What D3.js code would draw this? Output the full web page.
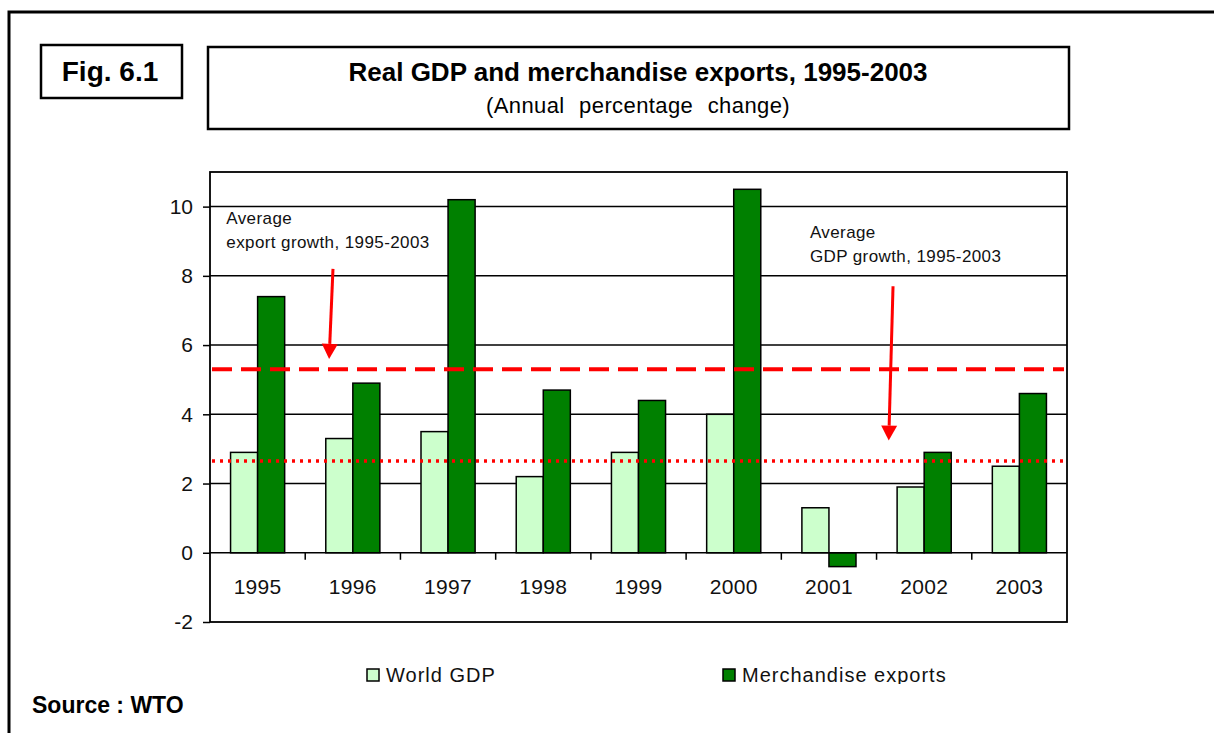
<!DOCTYPE html>
<html>
<head>
<meta charset="utf-8">
<script src="https://cdn.jsdelivr.net/npm/d3@7"></script>
<style>
  body { margin: 0; background: #fff; }
  svg { display: block; font-family: "Liberation Sans", Arial, sans-serif; }
</style>
</head>
<body>
<div id="chart"></div>
<script>
// data
const years = ["1995", "1996", "1997", "1998", "1999", "2000", "2001", "2002", "2003"];
const worldGdp = [2.9, 3.3, 3.5, 2.2, 2.9, 4.0, 1.3, 1.9, 2.5];
const merchExports = [7.4, 4.9, 10.2, 4.7, 4.4, 10.5, -0.4, 2.9, 4.6];
const seriesNames = ["World GDP", "Merchandise exports"];
const seriesColors = ["#ccffcc", "#008000"];
const yTicks = [-2, 0, 2, 4, 6, 8, 10];
const avgExport = 5.3;
const avgGdp = 2.65;

const width = 1214, height = 733;

const svg = d3.select("#chart").append("svg")
    .attr("width", width)
    .attr("height", height);

// page frame (only top + left edges are visible)
svg.append("path")
    .attr("d", "M9,733 V12 H1214")
    .attr("fill", "none")
    .attr("stroke", "#000")
    .attr("stroke-width", 3);

// fig label box
svg.append("rect")
    .attr("x", 41).attr("y", 45).attr("width", 141).attr("height", 53)
    .attr("fill", "none").attr("stroke", "#000").attr("stroke-width", 2.5);
svg.append("text")
    .attr("x", 110).attr("y", 81)
    .attr("text-anchor", "middle")
    .attr("font-weight", "bold")
    .attr("font-size", 28)
    .text("Fig. 6.1");

// title box
svg.append("rect")
    .attr("x", 208).attr("y", 47).attr("width", 861).attr("height", 82)
    .attr("fill", "none").attr("stroke", "#000").attr("stroke-width", 2.5);
svg.append("text")
    .attr("x", 638).attr("y", 81)
    .attr("text-anchor", "middle")
    .attr("font-weight", "bold")
    .attr("font-size", 26)
    .text("Real GDP and merchandise exports, 1995-2003");
svg.append("text")
    .attr("x", 638).attr("y", 113)
    .attr("text-anchor", "middle")
    .attr("font-size", 22)
    .attr("letter-spacing", 0.4)
    .attr("word-spacing", 8)
    .text("(Annual percentage change)");

// plot area
const margin = {left: 210, right: 1067, top: 172, bottom: 622};

const x0 = d3.scaleBand()
    .domain(years)
    .range([margin.left, margin.right]);

const x1 = d3.scaleBand()
    .domain(seriesNames)
    .range([0, x0.bandwidth()])
    .paddingOuter(0.76);

const y = d3.scaleLinear()
    .domain([-2, 11])
    .range([margin.bottom, margin.top]);

const plot = svg.append("g");

// gridlines
plot.append("g")
    .selectAll("line")
    .data(yTicks.filter(d => d > 0))
    .enter().append("line")
    .attr("x1", margin.left).attr("x2", margin.right)
    .attr("y1", d => y(d)).attr("y2", d => y(d))
    .attr("stroke", "#000").attr("stroke-width", 1.5);

// y axis
const yAxis = plot.append("g")
    .attr("transform", "translate(" + margin.left + ",0)")
    .call(d3.axisLeft(y).tickValues(yTicks).tickSize(7).tickPadding(10).tickFormat(d => String(d)));
yAxis.select(".domain").remove();
yAxis.selectAll(".tick line").attr("stroke-width", 1.5);
yAxis.selectAll("text")
    .attr("font-size", 21)
    .attr("font-family", "'Liberation Sans', Arial, sans-serif")
    .attr("fill", "#111");

// bars
const groups = plot.append("g")
    .selectAll("g")
    .data(years.map((yr, i) => ({year: yr, values: [worldGdp[i], merchExports[i]]})))
    .enter().append("g")
    .attr("transform", d => "translate(" + x0(d.year) + ",0)");

groups.selectAll("rect")
    .data(d => d.values.map((v, j) => ({name: seriesNames[j], value: v, color: seriesColors[j]})))
    .enter().append("rect")
    .attr("x", d => x1(d.name))
    .attr("width", x1.bandwidth())
    .attr("y", d => y(Math.max(0, d.value)))
    .attr("height", d => Math.abs(y(d.value) - y(0)))
    .attr("fill", d => d.color)
    .attr("stroke", "#000")
    .attr("stroke-width", 1.5);

// x axis at zero with category separators
plot.append("line")
    .attr("x1", margin.left).attr("x2", margin.right)
    .attr("y1", y(0)).attr("y2", y(0))
    .attr("stroke", "#000").attr("stroke-width", 1.5);

plot.append("g")
    .selectAll("line")
    .data(years.slice(1))
    .enter().append("line")
    .attr("x1", d => x0(d)).attr("x2", d => x0(d))
    .attr("y1", y(0)).attr("y2", y(0) + 7)
    .attr("stroke", "#000").attr("stroke-width", 1.5);

plot.append("g")
    .selectAll("text")
    .data(years)
    .enter().append("text")
    .attr("x", d => x0(d) + x0.bandwidth() / 2)
    .attr("y", y(0) + 41)
    .attr("text-anchor", "middle")
    .attr("font-size", 21)
    .attr("letter-spacing", 0.3)
    .attr("fill", "#111")
    .text(d => d);

// plot border
plot.append("rect")
    .attr("x", margin.left).attr("y", margin.top)
    .attr("width", margin.right - margin.left)
    .attr("height", margin.bottom - margin.top)
    .attr("fill", "none")
    .attr("stroke", "#000").attr("stroke-width", 1.8);

// average lines
plot.append("line")
    .attr("x1", margin.left + 2).attr("x2", margin.right - 3)
    .attr("y1", y(avgExport)).attr("y2", y(avgExport))
    .attr("stroke", "#ff0000").attr("stroke-width", 4)
    .attr("stroke-dasharray", "20,9");

plot.append("line")
    .attr("x1", margin.left + 2).attr("x2", margin.right - 3)
    .attr("y1", y(avgGdp)).attr("y2", y(avgGdp))
    .attr("stroke", "#ff0000").attr("stroke-width", 3.5)
    .attr("stroke-dasharray", "3,5");

// annotations: x as share of plot width, y in data units
const px = f => margin.left + f * (margin.right - margin.left);

const notes = [
    {x: 0.019, lines: ["Average", "export growth, 1995-2003"], y: [9.5, 8.8]},
    {x: 0.70, lines: ["Average", "GDP growth, 1995-2003"], y: [9.1, 8.4]}
];
notes.forEach(n => {
    n.lines.forEach((t, i) => {
        plot.append("text")
            .attr("x", px(n.x))
            .attr("y", y(n.y[i]))
            .attr("font-size", 17)
            .attr("letter-spacing", 0.4)
            .attr("fill", "#111")
            .text(t);
    });
});

const arrows = [
    {x1: 0.1435, y1: 8.2, x2: 0.139, y2: 5.6},
    {x1: 0.797, y1: 7.7, x2: 0.792, y2: 3.24}
];
arrows.forEach(a => {
    const sx = px(a.x1), sy = y(a.y1), tx = px(a.x2), ty = y(a.y2);
    const headLen = 15, headW = 8;
    const ang = Math.atan2(ty - sy, tx - sx);
    const bx = tx - headLen * Math.cos(ang), by = ty - headLen * Math.sin(ang);
    plot.append("line")
        .attr("x1", sx).attr("y1", sy).attr("x2", bx).attr("y2", by)
        .attr("stroke", "#ff0000").attr("stroke-width", 3);
    plot.append("path")
        .attr("d", "M" + tx + "," + ty +
            "L" + (bx + headW * Math.sin(ang)) + "," + (by - headW * Math.cos(ang)) +
            "L" + (bx - headW * Math.sin(ang)) + "," + (by + headW * Math.cos(ang)) + "Z")
        .attr("fill", "#ff0000");
});

// legend, clipped at the bottom edge of the original chart image
svg.append("clipPath").attr("id", "chartclip")
    .append("rect").attr("x", 0).attr("y", 0).attr("width", width).attr("height", 684);

const legend = svg.append("g").attr("clip-path", "url(#chartclip)");
const legendX = [367, 723];
seriesNames.forEach((name, i) => {
    legend.append("rect")
        .attr("x", legendX[i]).attr("y", 669)
        .attr("width", 12).attr("height", 12)
        .attr("fill", seriesColors[i])
        .attr("stroke", "#000").attr("stroke-width", 1.5);
    legend.append("text")
        .attr("x", legendX[i] + 19).attr("y", 682)
        .attr("font-size", 20)
        .attr("letter-spacing", 1)
        .attr("fill", "#111")
        .text(name);
});

// source
svg.append("text")
    .attr("x", 32).attr("y", 713)
    .attr("font-weight", "bold")
    .attr("font-size", 23)
    .text("Source : WTO");
</script>
</body>
</html>
